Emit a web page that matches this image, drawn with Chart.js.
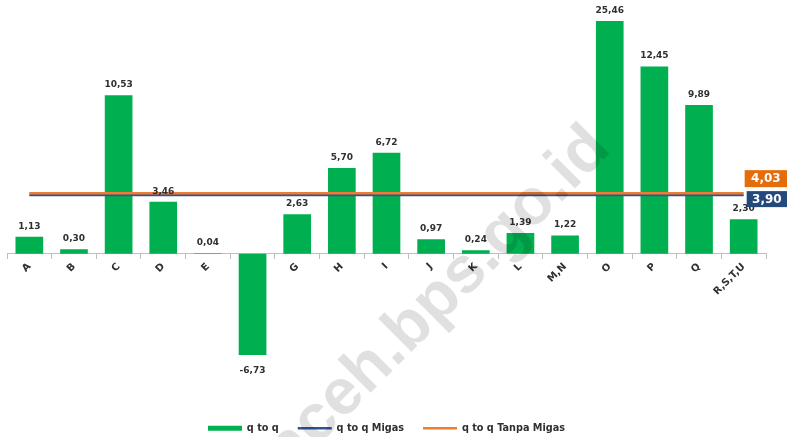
<!DOCTYPE html>
<html>
<head>
<meta charset="utf-8">
<script src="https://cdn.jsdelivr.net/npm/chart.js@4/dist/chart.umd.min.js"></script>
<style>
  html, body { margin: 0; padding: 0; background: #ffffff; }
  #wrap { width: 787px; height: 437px; position: relative; }
</style>
</head>
<body>
<div id="wrap"><canvas id="c" width="787" height="437"></canvas></div>
<script>
const categories = ['A', 'B', 'C', 'D', 'E', 'F', 'G', 'H', 'I', 'J', 'K', 'L', 'M,N', 'O', 'P', 'Q', 'R,S,T,U'];
const qtoq = [1.13, 0.30, 10.53, 3.46, 0.04, -6.73, 2.63, 5.70, 6.72, 0.97, 0.24, 1.39, 1.22, 25.46, 12.45, 9.89, 2.30];
const qtoqMigas = [3.90, 3.90, 3.90, 3.90, 3.90, 3.90, 3.90, 3.90, 3.90, 3.90, 3.90, 3.90, 3.90, 3.90, 3.90, 3.90, 3.90];
const qtoqTanpaMigas = [4.03, 4.03, 4.03, 4.03, 4.03, 4.03, 4.03, 4.03, 4.03, 4.03, 4.03, 4.03, 4.03, 4.03, 4.03, 4.03, 4.03];
const seriesNames = ['q to q', 'q to q Migas', 'q to q Tanpa Migas'];
const watermarkText = 'aceh.bps.go.id';

const GREEN = '#00B050';
const BLUE = '#2E5597';
const BLUE_BOX = '#24497D';
const ORANGE = '#ED7D31';
const ORANGE_BOX = '#E46C0A';
const TEXT = '#303030';

const fmt = v => v.toFixed(2).replace('.', ',');

const labelsPlugin = {
  id: 'valueLabels',
  afterDatasetsDraw(chart) {
    const ctx = chart.ctx;
    const area = chart.chartArea;
    const meta = chart.getDatasetMeta(0);
    ctx.save();
    ctx.font = 'bold 9px "DejaVu Sans"';
    ctx.fillStyle = TEXT;
    ctx.textAlign = 'center';
    meta.data.forEach((el, i) => {
      const v = qtoq[i];
      if (v >= 0) {
        ctx.textBaseline = 'bottom';
        const y = Math.max(el.y, area.top);
        ctx.fillText(fmt(v), el.x, y - 6);
      } else {
        ctx.textBaseline = 'top';
        ctx.fillText(fmt(v), el.x, el.y + 11);
      }
    });
    const boxes = [
      { ds: 2, vals: qtoqTanpaMigas, color: ORANGE_BOX, dy1: -23, dy2: -6 },
      { ds: 1, vals: qtoqMigas, color: BLUE_BOX, dy1: -4, dy2: 12 }
    ];
    ctx.font = 'bold 12px "DejaVu Sans"';
    boxes.forEach(b => {
      const m = chart.getDatasetMeta(b.ds);
      const last = m.data[m.data.length - 1];
      const x1 = b.ds === 2 ? last.x + 1 : last.x + 3;
      const y1 = last.y + b.dy1, y2 = last.y + b.dy2;
      ctx.fillStyle = b.color;
      ctx.fillRect(x1, y1, chart.width - x1, y2 - y1);
      ctx.fillStyle = '#ffffff';
      ctx.textAlign = 'center';
      ctx.textBaseline = 'middle';
      ctx.fillText(fmt(b.vals[b.vals.length - 1]), (x1 + chart.width) / 2, (y1 + y2) / 2 + 0.5);
    });
    ctx.restore();
  }
};

const watermarkPlugin = {
  id: 'watermark',
  afterDraw(chart) {
    const ctx = chart.ctx;
    ctx.save();
    ctx.translate(439, 299);
    ctx.rotate(-45 * Math.PI / 180);
    ctx.font = 'bold 65px "Liberation Sans"';
    ctx.fillStyle = 'rgba(0,0,0,0.12)';
    ctx.textAlign = 'center';
    ctx.textBaseline = 'middle';
    ctx.fillText(watermarkText, 0, 0);
    ctx.restore();
  }
};

new Chart(document.getElementById('c'), {
  data: {
    labels: categories,
    datasets: [
      {
        type: 'bar',
        label: seriesNames[0],
        data: qtoq,
        backgroundColor: GREEN,
        borderWidth: 0,
        barPercentage: 0.62,
        categoryPercentage: 1.0,
        pointStyle: 'rect',
        order: 2
      },
      {
        type: 'line',
        label: seriesNames[1],
        data: qtoqMigas,
        borderColor: BLUE,
        backgroundColor: BLUE,
        borderWidth: 2.5,
        pointRadius: 0,
        pointStyle: 'line',
        order: 1
      },
      {
        type: 'line',
        label: seriesNames[2],
        data: qtoqTanpaMigas,
        borderColor: ORANGE,
        backgroundColor: ORANGE,
        borderWidth: 2.5,
        pointRadius: 0,
        pointStyle: 'line',
        order: 0
      }
    ]
  },
  options: {
    responsive: false,
    animation: false,
    devicePixelRatio: 1,
    layout: { padding: { left: 7, right: 21, top: 21, bottom: -6 } },
    scales: {
      x: {
        position: { y: 0 },
        offset: true,
        grid: { display: true, drawOnChartArea: false, drawTicks: true, tickLength: 5, color: '#bfbfbf', offset: true },
        border: { display: true, color: '#bfbfbf', width: 1 },
        ticks: {
          minRotation: 45, maxRotation: 45, autoSkip: false, padding: 2,
          color: TEXT, font: { family: '"DejaVu Sans"', size: 10, weight: 'bold' }
        }
      },
      y: {
        display: false,
        min: -10.0,
        max: 15.47
      }
    },
    plugins: {
      tooltip: { enabled: false },
      legend: {
        position: 'bottom',
        labels: {
          usePointStyle: true,
          pointStyleWidth: 34,
          boxHeight: 5,
          padding: 19,
          color: TEXT,
          font: { family: '"DejaVu Sans"', size: 9.7, weight: 'bold' },
          sort: (a, b) => a.datasetIndex - b.datasetIndex
        }
      }
    }
  },
  plugins: [labelsPlugin, watermarkPlugin]
});
</script>
</body>
</html>
